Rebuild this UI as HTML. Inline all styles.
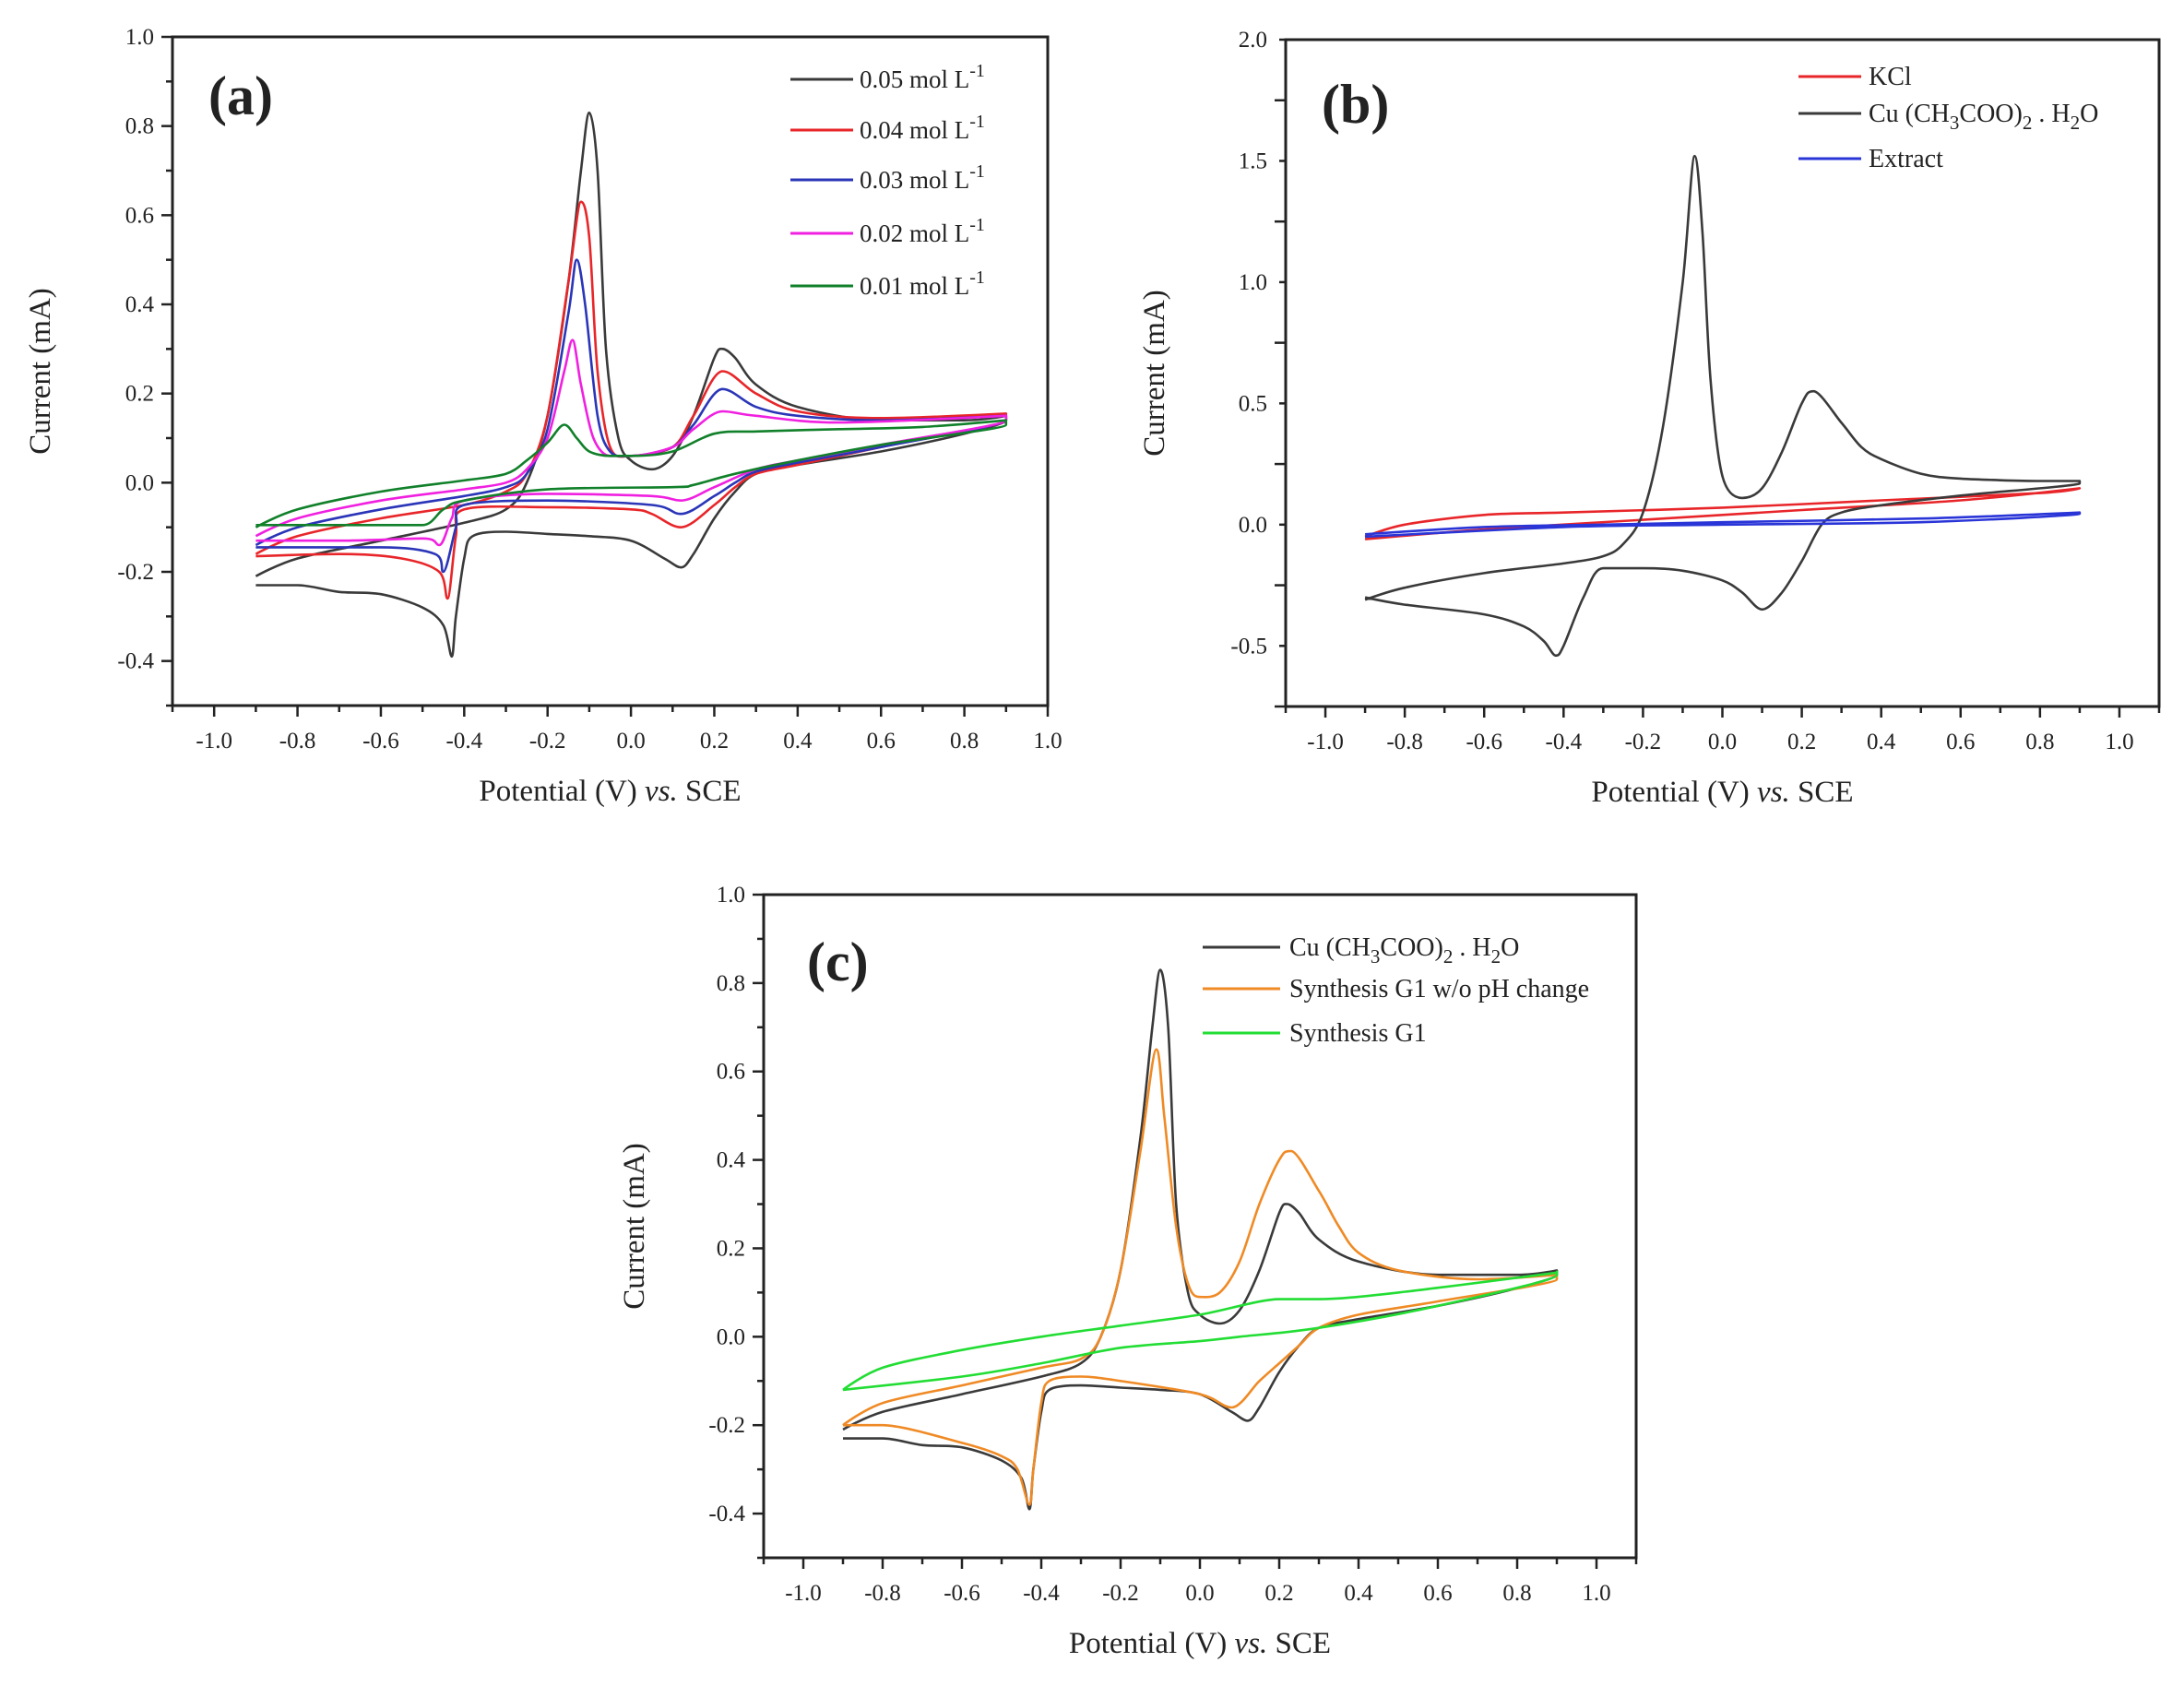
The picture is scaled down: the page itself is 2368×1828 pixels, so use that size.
<!DOCTYPE html>
<html><head><meta charset="utf-8"><style>
html,body{margin:0;padding:0;background:#fff;}
svg{display:block;}
text{font-family:"Liberation Serif",serif;fill:#222;}
</style></head><body>
<svg id="fig" width="2368" height="1828" viewBox="0 0 2368 1828" xmlns="http://www.w3.org/2000/svg"></svg>
<script>
// ---- Panel (a) data: potentials (V) and currents (mA), forward then reverse scan ----
const aBlackE = [-0.9,-0.8,-0.6,-0.4,-0.3,-0.25,-0.2,-0.15,-0.12,-0.1,-0.08,-0.06,-0.03,0.0,0.05,0.1,0.15,0.2,0.22,0.25,0.3,0.4,0.6,0.8,0.9, 0.9,0.8,0.6,0.4,0.3,0.25,0.2,0.15,0.12,0.08,0.0,-0.1,-0.2,-0.3,-0.38,-0.4,-0.42,-0.43,-0.45,-0.5,-0.6,-0.7,-0.8,-0.9];
const aBlackI = [-0.21,-0.17,-0.13,-0.09,-0.06,0.0,0.15,0.45,0.7,0.83,0.7,0.3,0.1,0.05,0.03,0.06,0.15,0.28,0.30,0.28,0.22,0.17,0.14,0.14,0.15, 0.14,0.11,0.07,0.04,0.02,-0.02,-0.08,-0.16,-0.19,-0.17,-0.13,-0.12,-0.115,-0.11,-0.12,-0.17,-0.3,-0.39,-0.32,-0.28,-0.25,-0.245,-0.23,-0.23];
const aRedE = [-0.9,-0.8,-0.6,-0.4,-0.3,-0.25,-0.2,-0.15,-0.12,-0.1,-0.08,-0.05,0.0,0.1,0.15,0.22,0.3,0.4,0.6,0.9, 0.9,0.6,0.4,0.3,0.25,0.2,0.12,0.05,0.0,-0.2,-0.4,-0.42,-0.44,-0.46,-0.55,-0.7,-0.9];
const aRedI = [-0.16,-0.12,-0.08,-0.05,-0.02,0.02,0.15,0.45,0.63,0.55,0.25,0.08,0.06,0.08,0.15,0.25,0.2,0.16,0.145,0.155, 0.14,0.08,0.04,0.02,-0.01,-0.05,-0.10,-0.07,-0.06,-0.055,-0.06,-0.12,-0.26,-0.2,-0.17,-0.16,-0.165];
const aBlueE = [-0.9,-0.8,-0.6,-0.4,-0.3,-0.25,-0.2,-0.15,-0.13,-0.11,-0.08,-0.05,0.0,0.1,0.15,0.22,0.3,0.4,0.6,0.9, 0.9,0.6,0.4,0.3,0.25,0.2,0.12,0.05,-0.2,-0.4,-0.42,-0.45,-0.47,-0.6,-0.9];
const aBlueI = [-0.14,-0.1,-0.06,-0.03,-0.01,0.02,0.12,0.38,0.50,0.4,0.15,0.07,0.06,0.08,0.13,0.21,0.17,0.15,0.14,0.15, 0.14,0.08,0.045,0.025,0.0,-0.03,-0.07,-0.05,-0.04,-0.05,-0.1,-0.2,-0.16,-0.145,-0.145];
const aPinkE = [-0.9,-0.8,-0.6,-0.4,-0.3,-0.25,-0.2,-0.16,-0.14,-0.12,-0.09,-0.05,0.0,0.1,0.15,0.22,0.3,0.5,0.9, 0.9,0.6,0.4,0.3,0.2,0.12,0.05,-0.2,-0.4,-0.43,-0.46,-0.5,-0.7,-0.9];
const aPinkI = [-0.12,-0.08,-0.04,-0.015,0.0,0.03,0.1,0.25,0.32,0.22,0.1,0.06,0.06,0.08,0.12,0.16,0.15,0.135,0.15, 0.14,0.085,0.05,0.03,-0.01,-0.04,-0.03,-0.025,-0.04,-0.08,-0.14,-0.125,-0.13,-0.13];
const aGreenE = [-0.9,-0.8,-0.6,-0.4,-0.3,-0.25,-0.2,-0.16,-0.13,-0.1,-0.05,0.0,0.1,0.2,0.3,0.5,0.7,0.9, 0.9,0.6,0.4,0.25,0.15,0.1,-0.2,-0.4,-0.45,-0.5,-0.6,-0.9];
const aGreenI = [-0.1,-0.06,-0.02,0.005,0.02,0.05,0.09,0.13,0.1,0.07,0.06,0.06,0.07,0.11,0.115,0.12,0.125,0.14, 0.13,0.085,0.05,0.02,-0.005,-0.01,-0.015,-0.04,-0.06,-0.095,-0.095,-0.095];

// ---- Panel (b) data ----
const bBlackE = [-0.9,-0.8,-0.6,-0.4,-0.3,-0.25,-0.2,-0.15,-0.1,-0.07,-0.05,-0.03,0.0,0.05,0.1,0.15,0.2,0.23,0.3,0.35,0.4,0.5,0.6,0.8,0.9, 0.9,0.6,0.4,0.3,0.25,0.2,0.15,0.1,0.05,0.0,-0.1,-0.2,-0.3,-0.35,-0.4,-0.42,-0.45,-0.5,-0.6,-0.8,-0.9];
const bBlackI = [-0.31,-0.26,-0.2,-0.16,-0.13,-0.08,0.05,0.4,1.0,1.52,1.2,0.6,0.2,0.11,0.15,0.3,0.5,0.55,0.42,0.32,0.27,0.21,0.19,0.18,0.18, 0.17,0.12,0.08,0.05,0.0,-0.15,-0.28,-0.35,-0.28,-0.23,-0.19,-0.18,-0.18,-0.3,-0.5,-0.54,-0.48,-0.42,-0.37,-0.33,-0.3];
const bRedE = [-0.9,-0.8,-0.6,-0.4,0.0,0.4,0.8,0.9, 0.9,0.6,0.2,-0.2,-0.6,-0.9];
const bRedI = [-0.05,0.0,0.04,0.05,0.07,0.1,0.13,0.15, 0.15,0.1,0.06,0.02,-0.02,-0.06];
const bBlueE = [-0.9,-0.6,-0.3,0.0,0.5,0.9, 0.9,0.5,0.0,-0.4,-0.9];
const bBlueI = [-0.04,-0.01,0.0,0.01,0.025,0.05, 0.045,0.01,0.0,-0.01,-0.05];

// ---- Panel (c) data ----
const cBlackE = aBlackE.slice();
const cBlackI = aBlackI.slice();
const cOrangeE = [-0.9,-0.8,-0.6,-0.4,-0.3,-0.25,-0.2,-0.15,-0.11,-0.09,-0.06,-0.03,0.0,0.05,0.1,0.15,0.2,0.23,0.3,0.35,0.4,0.5,0.7,0.9, 0.9,0.6,0.4,0.3,0.25,0.2,0.15,0.08,0.0,-0.2,-0.3,-0.38,-0.4,-0.42,-0.43,-0.46,-0.5,-0.6,-0.8,-0.9];
const cOrangeI = [-0.2,-0.15,-0.11,-0.07,-0.05,0.0,0.15,0.42,0.65,0.5,0.25,0.12,0.09,0.1,0.17,0.3,0.4,0.42,0.33,0.25,0.19,0.15,0.13,0.14, 0.13,0.08,0.05,0.02,-0.02,-0.06,-0.1,-0.16,-0.13,-0.1,-0.09,-0.1,-0.15,-0.3,-0.38,-0.3,-0.27,-0.24,-0.2,-0.2];
const cGreenE = [-0.9,-0.8,-0.6,-0.4,-0.2,0.0,0.2,0.3,0.5,0.9, 0.9,0.6,0.3,0.1,0.0,-0.2,-0.4,-0.6,-0.9];
const cGreenI = [-0.12,-0.07,-0.03,0.0,0.025,0.05,0.085,0.085,0.1,0.145, 0.14,0.07,0.02,0.0,-0.01,-0.025,-0.06,-0.09,-0.12];

// ---- tick labels ----
const xTicksAB = ["-1.0","-0.8","-0.6","-0.4","-0.2","0.0","0.2","0.4","0.6","0.8","1.0"];
const yTicksA = ["-0.4","-0.2","0.0","0.2","0.4","0.6","0.8","1.0"];
const yTicksB = ["-0.5","0.0","0.5","1.0","1.5","2.0"];

const NS = "http://www.w3.org/2000/svg";
const fig = document.getElementById('fig');
function mk(tag, attrs, parent){ const e=document.createElementNS(NS,tag); for(const k in attrs) e.setAttribute(k,attrs[k]); (parent||fig).appendChild(e); return e; }

function tangent(pts,i){
  const n=pts.length;
  const a=pts[Math.max(0,i-1)], b=pts[i], c=pts[Math.min(n-1,i+1)];
  let dx=(c[0]-a[0]), dy=(c[1]-a[1]);
  if((b[0]-a[0])*(c[0]-b[0])<=0) dx=0;
  if((b[1]-a[1])*(c[1]-b[1])<=0) dy=0;
  return [dx,dy];
}
function smoothPath(pts){
  let d = "M"+pts[0][0].toFixed(1)+","+pts[0][1].toFixed(1);
  const t=0.16;
  for(let i=0;i<pts.length-1;i++){
    const p1=pts[i], p2=pts[i+1];
    const t1=tangent(pts,i), t2=tangent(pts,i+1);
    const c1=[p1[0]+t1[0]*t, p1[1]+t1[1]*t];
    const c2=[p2[0]-t2[0]*t, p2[1]-t2[1]*t];
    d+=" C"+c1[0].toFixed(1)+","+c1[1].toFixed(1)+" "+c2[0].toFixed(1)+","+c2[1].toFixed(1)+" "+p2[0].toFixed(1)+","+p2[1].toFixed(1);
  }
  return d;
}

function panel(cfg){
  const g = mk('g',{});
  
  
  const X = v => cfg.L + (v - cfg.x0)/(cfg.x1-cfg.x0)*(cfg.R-cfg.L);
  const Y = v => cfg.B - (v - cfg.y0)/(cfg.y1-cfg.y0)*(cfg.B-cfg.T);
  const frame = mk('rect',{x:cfg.L,y:cfg.T,width:cfg.R-cfg.L,height:cfg.B-cfg.T,fill:'none',stroke:'#222','stroke-width':3},g);
  
  
  for(let v=Math.ceil(cfg.x0*10)/10; v<=cfg.x1+1e-9; v+=0.1){
    const major = Math.abs(Math.round(v*10)%2)===0;
    mk('line',{x1:X(v),x2:X(v),y1:cfg.B,y2:cfg.B+(major?12:7),stroke:'#222','stroke-width':2.5},g);
  }
  cfg.xt.forEach(s=>{
    const t = mk('text',{x:X(parseFloat(s)),y:cfg.B+46,'text-anchor':'middle','font-size':25},g);
    t.textContent = s;
    
    
  });
  for(let v=cfg.y0; v<=cfg.y1+1e-9; v+=cfg.ym){
    const major = Math.abs(Math.round(v/cfg.ym))%2 === (cfg.majOdd?1:0);
    mk('line',{x1:cfg.L,x2:cfg.L-(major?12:7),y1:Y(v),y2:Y(v),stroke:'#222','stroke-width':2.5},g);
  }
  cfg.yt.forEach(s=>{
    const t = mk('text',{x:cfg.L-20,y:Y(parseFloat(s))+8,'text-anchor':'end','font-size':25},g);
    t.textContent = s;
    
    
  });
  const xt = mk('text',{x:(cfg.L+cfg.R)/2,y:cfg.B+103,'text-anchor':'middle','font-size':33},g);
  xt.innerHTML = 'Potential (V) <tspan font-style="italic">vs.</tspan> SCE';
  
  
  const yx = cfg.yTitleX, yy=(cfg.T+cfg.B)/2;
  const yt = mk('text',{x:yx,y:yy,'text-anchor':'middle','font-size':33,transform:`rotate(-90 ${yx} ${yy})`},g);
  yt.textContent = 'Current (mA)';
  
  
  cfg.series.forEach(s=>{
    const pts = s.E.map((e,i)=>[X(e),Y(s.I[i])]);
    const p = mk('path',{d:smoothPath(pts),fill:'none',stroke:s.color,'stroke-width':s.w||2.6,'stroke-linejoin':'round'},g);
    
    
  });
  cfg.series.forEach((s,i)=>{
    const ly = cfg.leg.ys[i];
    const ln = mk('line',{x1:cfg.leg.x1,x2:cfg.leg.x2,y1:ly,y2:ly,stroke:s.color,'stroke-width':3},g);
    
    
    const t = mk('text',{x:cfg.leg.tx,y:ly+9,'font-size':cfg.leg.fs||27},g);
    t.innerHTML = s.label;
    
    
  });
  const pl = mk('text',{x:cfg.pl[0],y:cfg.pl[1],'font-size':60,'font-weight':'bold'},g);
  pl.textContent = cfg.plabel;
  
  
}

const sup = '<tspan dy="-12" font-size="20">-1</tspan>';
const cuLab = 'Cu (CH<tspan dy="8" font-size="21">3</tspan><tspan dy="-8">COO)</tspan><tspan dy="8" font-size="21">2</tspan><tspan dy="-8"> . H</tspan><tspan dy="8" font-size="21">2</tspan><tspan dy="-8">O</tspan>';

panel({name:'panel-a', L:187,R:1136,T:40,B:765, x0:-1.1,x1:1.0, y0:-0.5,y1:1.0, ym:0.1, majOdd:false,
  xt:xTicksAB, yt:yTicksA, yTitleX:54, plabel:'(a)', pl:[226,124],
  leg:{x1:857,x2:925,tx:932,ys:[86,141,195,253,310]},
  series:[
    {id:'series-0.05',E:aBlackE,I:aBlackI,color:'#3a3a3a',label:'0.05 mol L'+sup},
    {id:'series-0.04',E:aRedE,I:aRedI,color:'#e8262a',label:'0.04 mol L'+sup},
    {id:'series-0.03',E:aBlueE,I:aBlueI,color:'#2a35b8',label:'0.03 mol L'+sup},
    {id:'series-0.02',E:aPinkE,I:aPinkI,color:'#f020e0',label:'0.02 mol L'+sup},
    {id:'series-0.01',E:aGreenE,I:aGreenI,color:'#11802a',label:'0.01 mol L'+sup}
  ]});

panel({name:'panel-b', L:1394,R:2341,T:43,B:766, x0:-1.1,x1:1.1, y0:-0.75,y1:2.0, ym:0.25, majOdd:true,
  xt:xTicksAB, yt:yTicksB, yTitleX:1262, plabel:'(b)', pl:[1433,133],
  leg:{x1:1950,x2:2018,tx:2026,ys:[83,123,172],fs:28},
  series:[
    {id:'series-kcl',E:bRedE,I:bRedI,color:'#e8262a',label:'KCl'},
    {id:'series-cu-acetate',E:bBlackE,I:bBlackI,color:'#3a3a3a',label:cuLab},
    {id:'series-extract',E:bBlueE,I:bBlueI,color:'#2a35d8',label:'Extract'}
  ]});

panel({name:'panel-c', L:828,R:1774,T:970,B:1689, x0:-1.1,x1:1.1, y0:-0.5,y1:1.0, ym:0.1, majOdd:false,
  xt:xTicksAB, yt:yTicksA, yTitleX:698, plabel:'(c)', pl:[875,1063],
  leg:{x1:1304,x2:1388,tx:1398,ys:[1027,1072,1120],fs:28},
  series:[
    {id:'series-cu-acetate-c',E:cBlackE,I:cBlackI,color:'#3a3a3a',label:cuLab},
    {id:'series-g1-no-ph',E:cOrangeE,I:cOrangeI,color:'#ef8a25',label:'Synthesis G1 w/o pH change'},
    {id:'series-g1',E:cGreenE,I:cGreenI,color:'#22dd33',label:'Synthesis G1'}
  ]});
</script>
</body></html>
